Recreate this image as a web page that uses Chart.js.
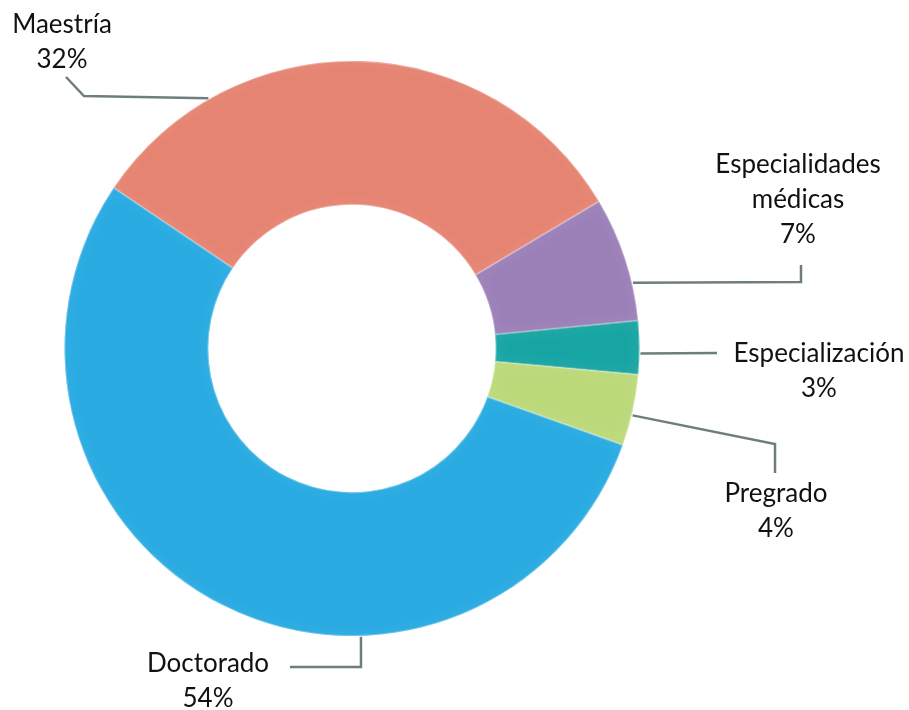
<!DOCTYPE html>
<html>
<head>
<meta charset="utf-8">
<script src="https://cdn.jsdelivr.net/npm/chart.js@4/dist/chart.umd.min.js"></script>
<style>
  html, body { margin: 0; padding: 0; background: #ffffff; }
  #wrap { width: 909px; height: 710px; }
</style>
</head>
<body>
<div id="wrap"><canvas id="c" width="909" height="710"></canvas></div>
<script>
// ---- data ----
const categories = ['Maestría', 'Especialidades médicas', 'Especialización', 'Pregrado', 'Doctorado'];
const values = [32, 7, 3, 4, 54];
const colors = ['#E68472', '#9B80B8', '#17A5A3', '#BCD97A', '#29ABE2'];

// ---- label layout (annotation styling, not data) ----
const labelLines = [['Maestría'], ['Especialidades', 'médicas'], ['Especialización'], ['Pregrado'], ['Doctorado']];
const labelLayout = [
  { x: 62,  baseline: 33,  anchorFrac: 0.227, path: [[84, 96], [66, 77]] },
  { x: 798, baseline: 173, anchorFrac: 0.70,  path: [[801, 282], [801, 265]] },
  { x: 819, baseline: 362, anchorFrac: 0.61,  path: [[717, 353]] },
  { x: 776, baseline: 502, anchorFrac: 0.57,  path: [[775, 444], [775, 473]] },
  { x: 208, baseline: 672, anchorFrac: 0.353, path: [[361, 667], [290, 667]] }
];
const FONT = '26px Lato';
const LINE_H = 35;

const softEdges = {
  id: 'softEdges',
  afterDatasetsDraw(chart) {
    const ctx = chart.ctx;
    const meta = chart.getDatasetMeta(0);
    meta.data.forEach((arc) => {
      const p = arc.getProps(['x', 'y', 'startAngle', 'endAngle', 'innerRadius', 'outerRadius'], true);
      ctx.save();
      ctx.beginPath();
      ctx.arc(p.x, p.y, p.outerRadius, p.startAngle, p.endAngle);
      ctx.arc(p.x, p.y, p.innerRadius, p.endAngle, p.startAngle, true);
      ctx.closePath();
      ctx.clip();
      ctx.shadowColor = 'rgba(255,255,255,0.75)';
      ctx.shadowBlur = 12;
      ctx.lineWidth = 2;
      ctx.strokeStyle = 'rgba(255,255,255,0.3)';
      ctx.stroke();
      ctx.restore();
    });
  }
};

const leaderLabels = {
  id: 'leaderLabels',
  afterDraw(chart) {
    const ctx = chart.ctx;
    const meta = chart.getDatasetMeta(0);
    ctx.save();
    meta.data.forEach((arc, i) => {
      const p = arc.getProps(['x', 'y', 'startAngle', 'endAngle', 'outerRadius'], true);
      const L = labelLayout[i];
      const a = p.startAngle + L.anchorFrac * (p.endAngle - p.startAngle);
      const ax = p.x + Math.cos(a) * (p.outerRadius + 1);
      const ay = p.y + Math.sin(a) * (p.outerRadius + 1);
      ctx.beginPath();
      ctx.moveTo(ax, ay);
      L.path.forEach(pt => ctx.lineTo(pt[0], pt[1]));
      ctx.lineWidth = 2.5;
      ctx.strokeStyle = '#6E7D7D';
      ctx.lineJoin = 'miter';
      ctx.stroke();

      ctx.font = FONT;
      ctx.fillStyle = '#111111';
      ctx.textAlign = 'center';
      ctx.textBaseline = 'alphabetic';
      const lines = labelLines[i].concat([values[i] + '%']);
      lines.forEach((t, k) => ctx.fillText(t, L.x, L.baseline + k * LINE_H));
    });
    ctx.restore();
  }
};

new Chart(document.getElementById('c'), {
  type: 'doughnut',
  data: {
    labels: categories,
    datasets: [{
      data: values,
      backgroundColor: colors,
      borderWidth: 0,
      hoverOffset: 0
    }]
  },
  options: {
    responsive: false,
    animation: false,
    rotation: -56,
    cutout: '50%',
    layout: { padding: { left: 64, right: 269, top: 61, bottom: 74 } },
    plugins: {
      legend: { display: false },
      tooltip: { enabled: false }
    }
  },
  plugins: [softEdges, leaderLabels]
});
</script>
</body>
</html>
